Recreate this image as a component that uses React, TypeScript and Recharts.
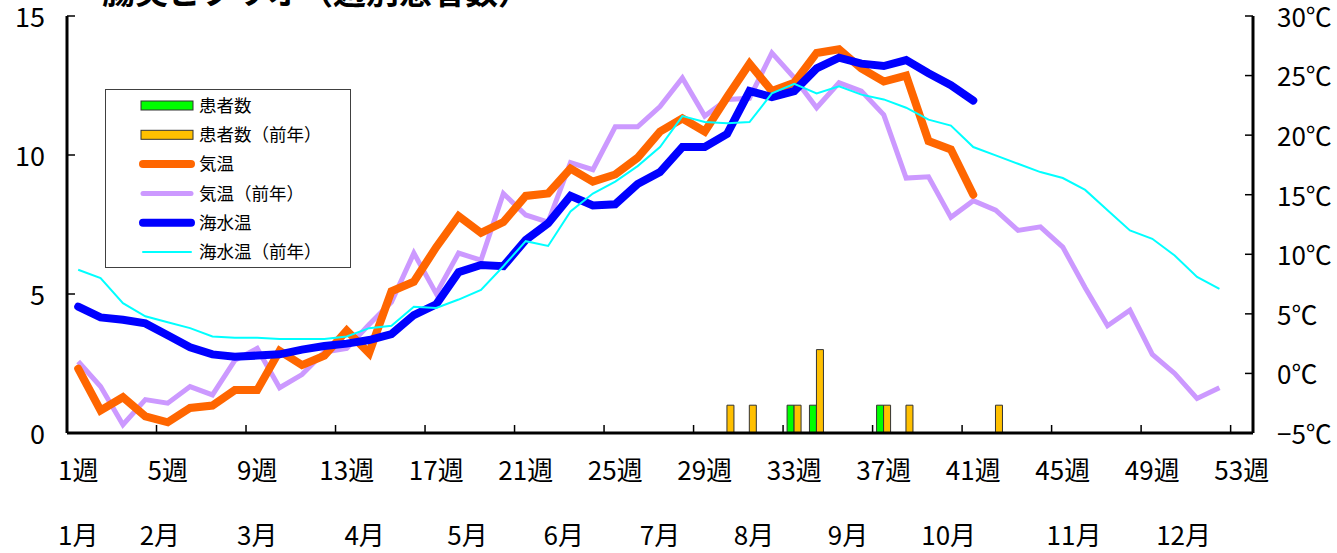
import React from 'react';
import { ComposedChart, Bar, Line, XAxis, YAxis, Legend } from 'recharts';

const FONT = '"Noto Sans CJK JP", "Noto Sans", sans-serif';

const weekLabels: string[] = Array.from({ length: 53 }, (_, i) => `${i + 1}週`);

// 患者数 (current year) by week number
const patientsByWeek: Record<number, number> = { 33: 1, 34: 1, 37: 1 };
// 患者数(前年)
const prevPatientsByWeek: Record<number, number> = { 30: 1, 31: 1, 33: 1, 34: 3, 37: 1, 38: 1, 42: 1 };

// 気温 (weeks 1-41)
const airTemp: number[] = [
  0.4, -3.1, -2.0, -3.6, -4.1, -2.9, -2.7, -1.4, -1.4, 1.9,
  0.7, 1.5, 3.6, 1.7, 6.9, 7.7, 10.6, 13.2, 11.8, 12.7,
  14.9, 15.1, 17.2, 16.1, 16.7, 18.1, 20.3, 21.4, 20.3, 23.2,
  26.0, 23.7, 24.4, 26.9, 27.2, 25.6, 24.5, 25.0, 19.5, 18.8,
  15.0,
];
// 気温(前年) (weeks 1-52)
const prevAirTemp: number[] = [
  1.0, -1.1, -4.3, -2.2, -2.5, -1.1, -1.8, 1.1, 2.1, -1.2,
  -0.1, 1.8, 2.1, 4.1, 6.0, 10.1, 6.7, 10.1, 9.5, 15.1,
  13.3, 12.7, 17.7, 17.1, 20.7, 20.7, 22.4, 24.8, 21.6, 23.0,
  23.1, 26.9, 24.8, 22.3, 24.4, 23.7, 21.7, 16.4, 16.5, 13.1,
  14.5, 13.7, 12.0, 12.3, 10.6, 7.2, 4.0, 5.3, 1.6, 0.0,
  -2.1, -1.2,
];
// 海水温 (weeks 1-41)
const seaTemp: number[] = [
  5.6, 4.7, 4.5, 4.2, 3.2, 2.2, 1.6, 1.4, 1.5, 1.6,
  2.0, 2.3, 2.5, 2.8, 3.3, 4.9, 5.8, 8.5, 9.1, 9.0,
  11.2, 12.6, 14.9, 14.1, 14.2, 15.9, 16.9, 19.0, 19.0, 20.1,
  23.7, 23.2, 23.7, 25.6, 26.5, 26.0, 25.8, 26.3, 25.2, 24.2,
  22.9,
];
// 海水温(前年) (weeks 1-52)
const prevSeaTemp: number[] = [
  8.7, 8.0, 5.9, 4.8, 4.3, 3.8, 3.1, 3.0, 3.0, 2.9,
  2.9, 2.9, 3.1, 3.8, 4.0, 5.6, 5.5, 6.2, 7.0, 9.0,
  11.1, 10.7, 13.6, 15.1, 16.1, 17.4, 19.0, 21.6, 21.1, 21.0,
  21.1, 23.5, 24.3, 23.5, 24.1, 23.4, 23.0, 22.3, 21.3, 20.8,
  19.0, 18.3, 17.6, 16.9, 16.4, 15.4, 13.7, 12.0, 11.3, 9.9,
  8.1, 7.1,
];

const countTicks = [0, 5, 10, 15];
const tempTicks = [-5, 0, 5, 10, 15, 20, 25, 30];
const monthLabels = ['1月', '2月', '3月', '4月', '5月', '6月', '7月', '8月', '9月', '10月', '11月', '12月'];
const monthPos = [1.0, 4.65, 9.0, 13.8, 18.4, 22.7, 27.0, 31.2, 35.4, 39.9, 45.5, 50.4];

const data = weekLabels.map((week, i) => ({
  week,
  patients: patientsByWeek[i + 1] ?? 0,
  prevPatients: prevPatientsByWeek[i + 1] ?? 0,
  air: i < airTemp.length ? airTemp[i] : null,
  prevAir: i < prevAirTemp.length ? prevAirTemp[i] : null,
  sea: i < seaTemp.length ? seaTemp[i] : null,
  prevSea: i < prevSeaTemp.length ? prevSeaTemp[i] : null,
}));

const legendItems = [
  { name: '患者数', kind: 'bar', color: '#00FF00' },
  { name: '患者数（前年）', kind: 'bar', color: '#FFC000' },
  { name: '気温', kind: 'line', color: '#FF6600', width: 8 },
  { name: '気温（前年）', kind: 'line', color: '#CC99FF', width: 5 },
  { name: '海水温', kind: 'line', color: '#0000FF', width: 8 },
  { name: '海水温（前年）', kind: 'line', color: '#00FFFF', width: 2 },
];

const WeekTick = (props: any) => {
  const { x, y, payload, index } = props;
  const off = payload && typeof payload.offset === 'number' ? payload.offset : 0;
  return (
    <g>
      {index > 0 && (
        <line x1={x - off} x2={x - off} y1={y} y2={y - 8} stroke="#000" strokeWidth={1.5} />
      )}
      <text x={x} y={y + 47} textAnchor="middle" fontSize={26} fontFamily={FONT} fill="#000">
        {payload.value}
      </text>
    </g>
  );
};

const MonthTick = (props: any) => {
  const { x, y, payload } = props;
  const idx = monthPos.indexOf(payload.value);
  return (
    <text x={x} y={y + 52} textAnchor="middle" fontSize={26} fontFamily={FONT} fill="#000">
      {monthLabels[idx]}
    </text>
  );
};

const LeftTick = (props: any) => {
  const { x, y, payload } = props;
  return (
    <g>
      <line x1={x} x2={x + 8} y1={y} y2={y} stroke="#000" strokeWidth={1.5} />
      <text x={x - 22} y={y} dy="0.4em" textAnchor="end" fontSize={27} fontFamily={FONT} fill="#000">
        {payload.value}
      </text>
    </g>
  );
};

const RightTick = (props: any) => {
  const { x, y, payload } = props;
  const v = payload.value as number;
  const label = (v < 0 ? '−' + Math.abs(v) : String(v)) + '℃';
  return (
    <g>
      <line x1={x - 8} x2={x} y1={y} y2={y} stroke="#000" strokeWidth={1.5} />
      <text x={x + 24} y={y} dy="0.42em" textAnchor="start" fontSize={26} fontFamily={FONT} fill="#000">
        {label}
      </text>
    </g>
  );
};

const LegendBox = () => {
  const rowH = 29.3;
  return (
    <div style={{ width: 246, height: 179, boxSizing: 'border-box', border: '1.5px solid #404040', background: '#fff' }}>
      <svg width={243} height={176} style={{ display: 'block' }}>
        {legendItems.map((it, i) => {
          const cy = 15.5 + i * rowH;
          return (
            <g key={it.name}>
              {it.kind === 'bar' ? (
                <rect x={35} y={cy - 4.5} width={52} height={9} fill={it.color} stroke="#333" strokeWidth={1} />
              ) : (
                <line x1={37} x2={85} y1={cy} y2={cy} stroke={it.color} strokeWidth={it.width} strokeLinecap="round" />
              )}
              <text x={93} y={cy} dy="0.36em" fontSize={17.5} fontFamily={FONT} fill="#000">
                {it.name}
              </text>
            </g>
          );
        })}
      </svg>
    </div>
  );
};

export default function App() {
  return (
    <div style={{ position: 'absolute', left: 0, top: 0, width: 1337, height: 553, background: '#fff', overflow: 'hidden' }}>
      <svg width={1337} height={553} style={{ position: 'absolute', left: 0, top: 0 }}>
        <text x={102} y={4} fontSize={33} fontWeight="bold" fontFamily={FONT} fill="#000">
          腸炎ビブリオ（週別患者数）
        </text>
      </svg>
      <div style={{ position: 'absolute', left: 0, top: 0 }}>
        <ComposedChart
          width={1337}
          height={553}
          data={data}
          margin={{ top: 16, right: 0, bottom: 0, left: 0 }}
          barGap={0}
          style={{ fontFamily: FONT }}
        >
          <XAxis
            xAxisId={0}
            dataKey="week"
            height={60}
            interval={3}
            tickSize={0}
            tickMargin={0}
            tickLine={false}
            axisLine={{ stroke: '#000', strokeWidth: 3 }}
            tick={<WeekTick />}
          />
          <XAxis
            xAxisId="month"
            type="number"
            dataKey="mpos"
            domain={[0.5, 53.5]}
            ticks={monthPos}
            height={60}
            tickSize={0}
            tickMargin={0}
            tickLine={false}
            axisLine={false}
            allowDataOverflow
            tick={<MonthTick />}
          />
          <XAxis
            xAxisId="top"
            orientation="top"
            dataKey="week"
            height={0}
            tick={false}
            tickLine={false}
            axisLine={{ stroke: '#000', strokeWidth: 3 }}
          />
          <YAxis
            yAxisId="count"
            orientation="left"
            width={67}
            domain={[0, 15]}
            ticks={countTicks}
            tickSize={0}
            tickMargin={0}
            tickLine={false}
            axisLine={{ stroke: '#000', strokeWidth: 3 }}
            tick={<LeftTick />}
            allowDataOverflow
          />
          <YAxis
            yAxisId="temp"
            orientation="right"
            width={84}
            domain={[-5, 30]}
            ticks={tempTicks}
            tickSize={0}
            tickMargin={0}
            tickLine={false}
            axisLine={{ stroke: '#000', strokeWidth: 3 }}
            tick={<RightTick />}
            allowDataOverflow
          />
          <Legend
            layout="vertical"
            align="center"
            verticalAlign="middle"
            content={<LegendBox />}
            wrapperStyle={{ position: 'absolute', left: 105, top: 89, right: 'auto', bottom: 'auto', width: 246, height: 179 }}
          />
          <Bar dataKey="patients" name="患者数" yAxisId="count" xAxisId={0} fill="#00FF00" stroke="#333" strokeWidth={1} barSize={7} isAnimationActive={false} />
          <Bar dataKey="prevPatients" name="患者数（前年）" yAxisId="count" xAxisId={0} fill="#FFC000" stroke="#333" strokeWidth={1} barSize={7} isAnimationActive={false} />
          <Line dataKey="prevAir" name="気温（前年）" yAxisId="temp" xAxisId={0} stroke="#CC99FF" strokeWidth={5} dot={false} activeDot={false} type="linear" isAnimationActive={false} />
          <Line dataKey="air" name="気温" yAxisId="temp" xAxisId={0} stroke="#FF6600" strokeWidth={8} dot={false} activeDot={false} type="linear" strokeLinecap="round" isAnimationActive={false} />
          <Line dataKey="sea" name="海水温" yAxisId="temp" xAxisId={0} stroke="#0000FF" strokeWidth={8} dot={false} activeDot={false} type="linear" strokeLinecap="round" isAnimationActive={false} />
          <Line dataKey="prevSea" name="海水温（前年）" yAxisId="temp" xAxisId={0} stroke="#00FFFF" strokeWidth={2} dot={false} activeDot={false} type="linear" isAnimationActive={false} />
        </ComposedChart>
      </div>
    </div>
  );
}
